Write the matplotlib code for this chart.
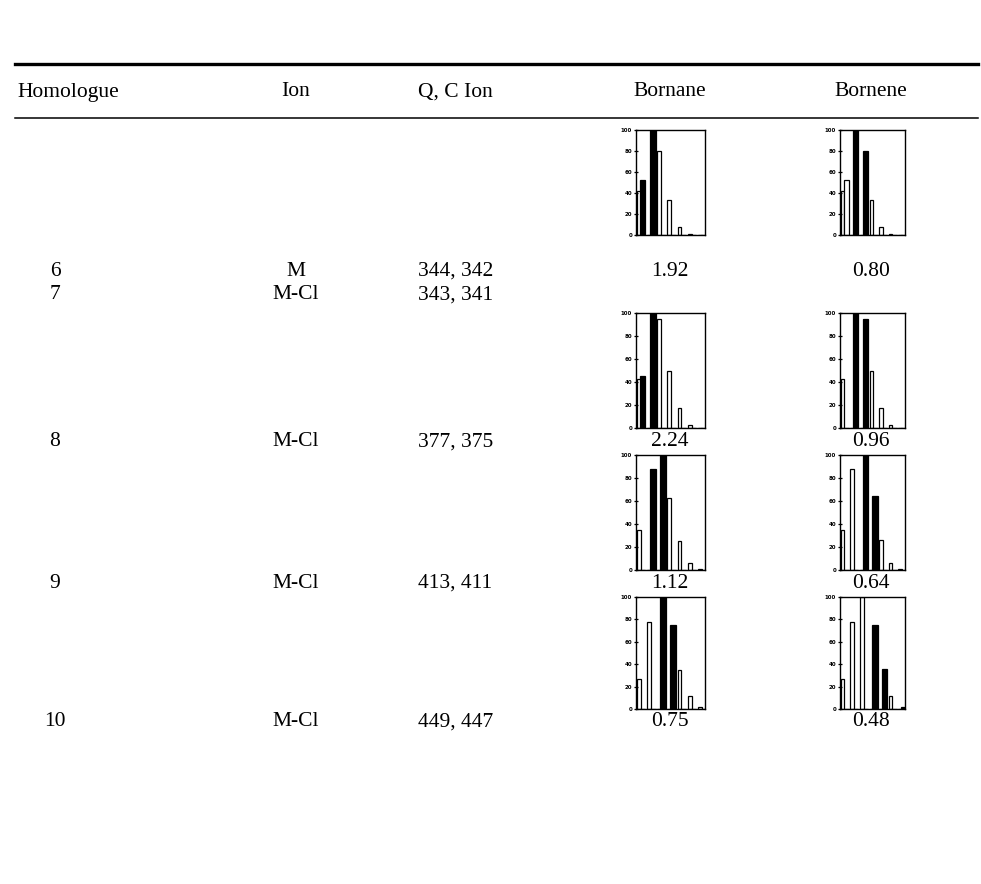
import matplotlib
matplotlib.use("Agg")
import matplotlib.pyplot as plt
from matplotlib.lines import Line2D
import numpy as np

# table text
headers = ["Homologue", "Ion", "Q, C Ion", "Bornane", "Bornene"]
homologues = ["6", "7", "8", "9", "10"]
ions = ["M", "M-Cl", "M-Cl", "M-Cl", "M-Cl"]
qc_ions = ["344, 342", "343, 341", "377, 375", "413, 411", "449, 447"]
bornane_vals = ["1.92", "", "2.24", "1.12", "0.75"]
bornene_vals = ["0.80", "", "0.96", "0.64", "0.48"]

# isotope cluster mini charts (rows 6, 8, 9, 10); left = open bar, right = filled per mask
bornane_left = [[42, 0, 80, 33, 8, 1, 0],
                [43, 0, 95, 50, 17, 3, 0],
                [35, 0, 0, 63, 25, 6, 1],
                [27, 78, 0, 0, 35, 12, 2]]
bornane_right = [[52, 100, 0, 0, 0, 0, 0],
                 [45, 100, 0, 0, 0, 0, 0],
                 [0, 88, 100, 0, 0, 0, 0],
                 [0, 0, 100, 75, 0, 0, 0]]
bornane_fill = ["kkkkkkk", "kkkkkkk", "kkkkkkk", "kkkkkkk"]

bornene_left = [[42, 0, 0, 33, 8, 1, 0],
                [43, 0, 0, 50, 17, 3, 0],
                [35, 88, 0, 0, 26, 6, 1],
                [27, 78, 100, 0, 0, 12, 0]]
bornene_right = [[52, 100, 80, 0, 0, 0, 0],
                 [0, 100, 95, 0, 0, 0, 0],
                 [0, 0, 100, 64, 0, 0, 0],
                 [0, 0, 0, 75, 36, 0, 2]]
bornene_fill = ["wkkkkkk", "kkkkkkk", "kkkkkkk", "kkkkkkk"]

W, H = 981, 884
fig = plt.figure(figsize=(W / 100, H / 100), dpi=100)
serif = "Liberation Serif"
fs = 15.5

def fx(x):
    return x / W

def fy(y):
    return 1 - y / H

# rules
fig.add_artist(Line2D([fx(15), fx(978)], [fy(64), fy(64)], color="black", lw=2.4))
fig.add_artist(Line2D([fx(15), fx(978)], [fy(118), fy(118)], color="black", lw=1.1))

# header
fig.text(fx(17), fy(92), headers[0], family=serif, fontsize=fs, va="center", ha="left")
fig.text(fx(296), fy(92), headers[1], family=serif, fontsize=fs, va="center", ha="center")
fig.text(fx(418), fy(92), headers[2], family=serif, fontsize=fs, va="center", ha="left")
fig.text(fx(670), fy(92), headers[3], family=serif, fontsize=fs, va="center", ha="center")
fig.text(fx(871), fy(92), headers[4], family=serif, fontsize=fs, va="center", ha="center")

row_y = [271, 295, 442, 583, 722]
for i, y in enumerate(row_y):
    fig.text(fx(55), fy(y), homologues[i], family=serif, fontsize=fs, va="center", ha="center")
    fig.text(fx(296), fy(y), ions[i], family=serif, fontsize=fs, va="center", ha="center")
    fig.text(fx(418), fy(y), qc_ions[i], family=serif, fontsize=fs, va="center", ha="left")
    fig.text(fx(670), fy(y), bornane_vals[i], family=serif, fontsize=fs, va="center", ha="center")
    fig.text(fx(871), fy(y), bornene_vals[i], family=serif, fontsize=fs, va="center", ha="center")

chart_y = [(130, 235), (313, 428), (455, 570), (597, 709)]
cols = [(636, 705, bornane_left, bornane_right, bornane_fill),
        (840, 905, bornene_left, bornene_right, bornene_fill)]

pos = np.arange(1, 8)
for (x0, x1, lefts, rights, fills) in cols:
    for k, (y0, y1) in enumerate(chart_y):
        ax = fig.add_axes([fx(x0), fy(y1), (x1 - x0) / W, (y1 - y0) / H])
        ax.bar(pos - 0.22, lefts[k], width=0.38, facecolor="white",
               edgecolor="black", linewidth=0.9)
        ax.bar(pos + 0.15, rights[k], width=0.55,
               color=[c for c in fills[k]], edgecolor="black", linewidth=0.9)
        ax.set_xlim(0.5, 7.3)
        ax.set_ylim(0, 100)
        ax.set_yticks([0, 20, 40, 60, 80, 100])
        ax.set_xticks([])
        ax.tick_params(axis="y", direction="inout", length=3.5, width=0.9,
                       labelsize=4, pad=1)
        for lab in ax.get_yticklabels():
            lab.set_fontweight("bold")
        for s in ax.spines.values():
            s.set_linewidth(1.0)

fig.savefig("out.png", dpi=100)
